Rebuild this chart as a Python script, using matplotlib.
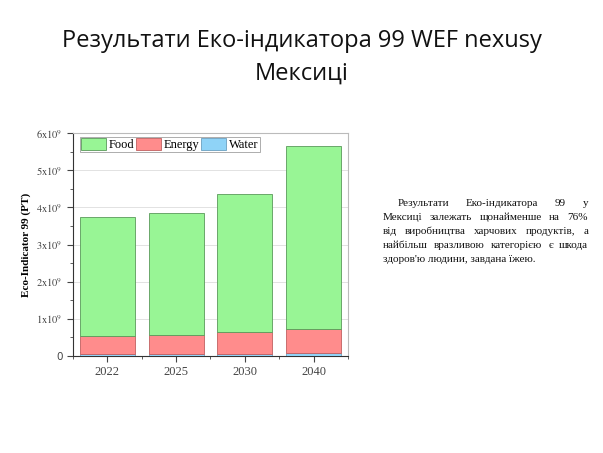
import numpy as np
import matplotlib.pyplot as plt
from matplotlib.ticker import FuncFormatter, MultipleLocator

plt.rcParams['mathtext.fontset'] = 'stix'

years = ["2022", "2025", "2030", "2040"]
water = [0.05, 0.05, 0.05, 0.07]
energy = [0.49, 0.53, 0.59, 0.65]
food = [3.21, 3.28, 3.71, 4.93]

title_lines = ["Результати Еко-індикатора 99 WEF nexusy", "Мексиці"]
body_lines = [
    "Результати Еко-індикатора 99 у",
    "Мексиці залежать щонайменше на 76%",
    "від виробництва харчових продуктів, а",
    "найбільш вразливою категорією є шкода",
    "здоров'ю людини, завдана їжею.",
]

fig = plt.figure(figsize=(6.03, 4.53), dpi=100)
fig.patch.set_facecolor("white")

# title
fig.text(0.5, 0.910, title_lines[0], ha="center", va="center",
         fontsize=17, family="Open Sans", color="#111111")
fig.text(0.5, 0.838, title_lines[1], ha="center", va="center",
         fontsize=17, family="Open Sans", color="#111111")

# chart
ax = fig.add_axes([0.121, 0.214, 0.456, 0.492])
x = np.arange(len(years))
w = 0.8
b1 = np.array(water)
b2 = b1 + np.array(energy)
ax.bar(x, water, w, color="#8fd3f7", edgecolor="#6aa0c0", lw=0.6, label="Water", zorder=3)
ax.bar(x, energy, w, bottom=b1, color="#ff8c8c", edgecolor="#c06060", lw=0.6, label="Energy", zorder=3)
ax.bar(x, food, w, bottom=b2, color="#98f595", edgecolor="#5a9a5a", lw=0.6, label="Food", zorder=3)

ax.set_xlim(-0.5, 3.5)
ax.set_ylim(0, 6)
ax.set_xticks(x)
ax.set_xticklabels(years, family="Liberation Serif", fontsize=9, color="#222222")
ax.xaxis.set_minor_locator(MultipleLocator(0.5))
ax.yaxis.set_major_locator(MultipleLocator(1))
ax.yaxis.set_minor_locator(MultipleLocator(0.5))


def fmt(v, pos):
    if v == 0:
        return "0"
    return r"$%d\mathrm{x}10^9$" % v


ax.yaxis.set_major_formatter(FuncFormatter(fmt))
ax.tick_params(axis="y", labelsize=7.5, colors="#444444", length=4, direction="out")
ax.tick_params(axis="x", length=4, direction="out", colors="#444444")
ax.tick_params(which="minor", length=2, colors="#444444")
ax.grid(axis="y", color="#dddddd", lw=0.6, zorder=0)
for s in ["top", "right"]:
    ax.spines[s].set_color("#bbbbbb")
for s in ["left", "bottom"]:
    ax.spines[s].set_color("#333333")
ax.set_ylabel("Eco-Indicator 99 (PT)", family="Liberation Serif",
              fontweight="bold", fontsize=8)

h, l = ax.get_legend_handles_labels()
leg = ax.legend(h[::-1], l[::-1], ncol=3, loc="upper left", bbox_to_anchor=(0.02, 0.99),
                prop={"family": "Liberation Serif", "size": 9}, frameon=True,
                fancybox=False, edgecolor="#888888", handlelength=2.0, handleheight=1.1,
                columnspacing=0.1, handletextpad=0.25, borderpad=0.1, borderaxespad=0.1)
leg.get_frame().set_linewidth(0.6)

# justified body text
fig.canvas.draw()
renderer = fig.canvas.get_renderer()
left_px, right_px = 383, 588
H = 453
y0 = 203
step = 14
props = dict(family="Liberation Serif", fontsize=8, color="#111111", va="center")
for i, line in enumerate(body_lines):
    yy = 1 - (y0 + i * step) / H
    start = left_px + (15 if i == 0 else 0)
    if i == len(body_lines) - 1:
        fig.text(start / 603, yy, line, ha="left", **props)
        continue
    words = line.split(" ")
    ts = [fig.text(0, yy, wd, ha="left", **props) for wd in words]
    widths = [t.get_window_extent(renderer).width for t in ts]
    gap = (right_px - start - sum(widths)) / (len(words) - 1)
    cur = start
    for t, wd in zip(ts, widths):
        t.set_x(cur / 603)
        cur += wd + gap

fig.savefig("out.png", dpi=100)
